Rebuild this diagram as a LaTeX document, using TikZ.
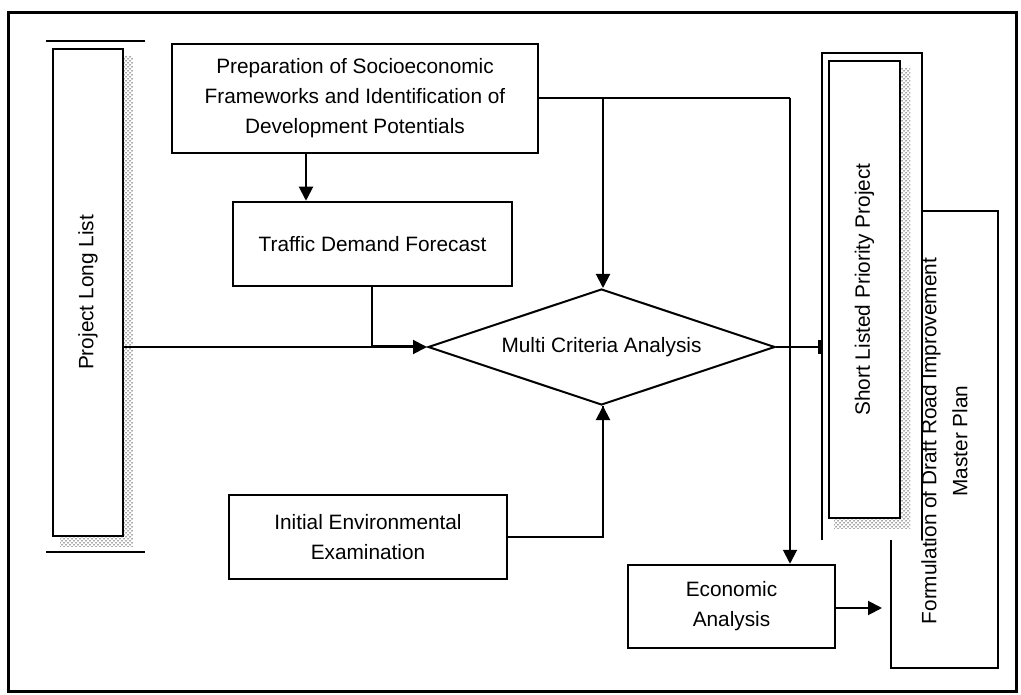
\documentclass[tikz,border=0pt]{standalone}
\usepackage{fontspec}
\setmainfont{Liberation Sans}
\usetikzlibrary{arrows.meta,shapes.geometric,patterns}
\newcommand\txtfont{\fontsize{20.8}{30}\selectfont}
\pgfdeclarepatternformonly{shdots}{\pgfqpoint{-1pt}{-1pt}}{\pgfqpoint{5pt}{5pt}}{\pgfqpoint{4pt}{4pt}}{%
  \pgfpathcircle{\pgfqpoint{0pt}{0pt}}{0.75pt}%
  \pgfpathcircle{\pgfqpoint{2pt}{2pt}}{0.75pt}%
  \pgfusepath{fill}}
\begin{document}
\begin{tikzpicture}[x=1pt,y=-1pt,
  box/.style={draw, line width=2.5pt, fill=white, inner sep=0pt, align=center, font=\txtfont},
  lbl/.style={inner sep=0pt, align=center, font=\txtfont},
  shadow/.style={pattern=shdots, pattern color=black!70},
  thin/.style={line width=1.2pt},
  arr/.style={line width=2pt, -{Triangle[length=14pt,width=14pt]}},
  line/.style={line width=2pt}]
\useasboundingbox (0,0) rectangle (1021,695);
% outer frame
\draw[line width=3pt] (8,13) rectangle (1016,691);

% Project Long List
\draw[thin] (46,41) -- (145,41);
\draw[thin] (46,552) -- (145,552);
\fill[shadow] (60,56) rectangle (133,546);
\node[box, minimum width=70pt, minimum height=487pt] (long) at (88,292.5) {};
\node[lbl, rotate=90] at (long) {Project Long List};

% Formulation box
\node[box, minimum width=107pt, minimum height=457pt] (form) at (944.5,439.5) {};
% Short list frame
\filldraw[thin, fill=white] (822,540) -- (822,53) -- (922,53) -- (922,540);
\fill[shadow] (834,68) rectangle (910,528);
\node[box, minimum width=71pt, minimum height=457pt] (short) at (864.5,289.5) {};
\node[lbl, rotate=90] at (short) {Short Listed Priority Project};
\node[lbl, rotate=90, font=\fontsize{20.8}{31}\selectfont] at (944.5,441) {Formulation of Draft Road Improvement\\Master Plan};

% top box
\node[box, minimum width=366pt, minimum height=109pt] (prep) at (355,98.5)
  {Preparation of Socioeconomic\\Frameworks and Identification of\\Development Potentials};
% traffic
\node[box, minimum width=279pt, minimum height=84pt] (traffic) at (372.5,244) {Traffic Demand Forecast};
% diamond
\node[draw, diamond, line width=2pt, shape aspect=3, inner sep=0pt, minimum width=347pt, minimum height=116pt, font=\txtfont] (mca) at (601.5,347) {Multi Criteria Analysis};
% initial env
\node[box, minimum width=278pt, minimum height=84pt] (iee) at (368,537) {Initial Environmental\\Examination};
% economic
\node[box, minimum width=207pt, minimum height=83pt] (econ) at (731.5,606.5) {Economic\\Analysis};

% connectors
\coordinate (j1) at (603,98.5);
\coordinate (j2) at (790,98.5);
\coordinate (j3) at (372,347);
\draw[line] (prep.east) -- (j2);
\draw[arr] (j1) -- (j1 |- mca.north);
\draw[arr] (j2) -- (j2 |- econ.north);
\draw[arr] (prep.south -| 306,0) -- (traffic.north -| 306,0);
\draw[arr] (long.east |- mca.west) -- (mca.west);
\draw[line width=3pt] (j3) -- ([xshift=-10pt]mca.west);
\draw[line] (traffic.south -| j3) -- (j3);
\draw[line] (iee.east) -| (mca.south -| j1);
\draw[arr] (iee.east -| j1) -- (mca.south -| j1);
\draw[line width=2pt, -{Rectangle[length=4pt,width=14pt]}] (mca.east) -- (822,347);
\draw[arr] (econ.east |- 0,608) -- (882,608);
\end{tikzpicture}
\end{document}
